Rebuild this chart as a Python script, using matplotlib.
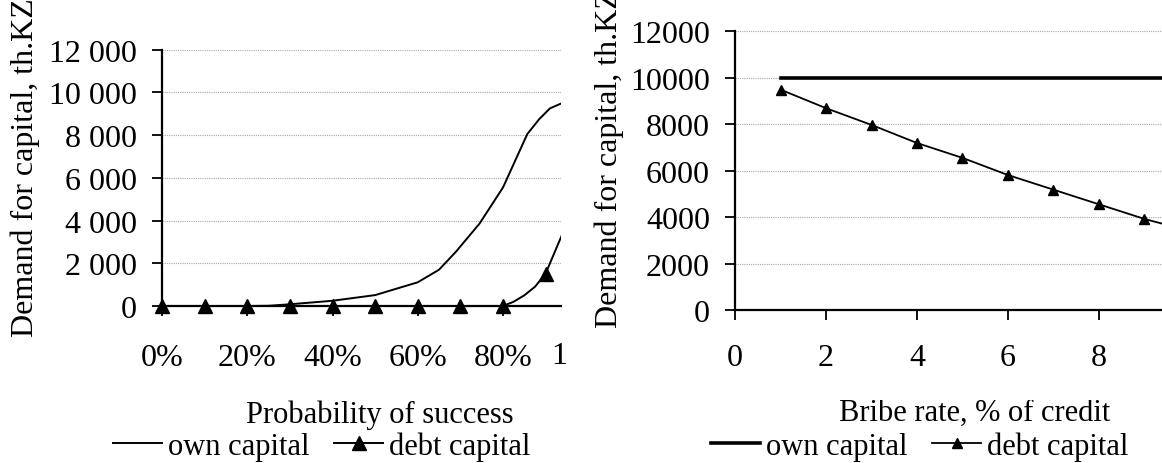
import numpy as np
import matplotlib
matplotlib.use("Agg")
import matplotlib.pyplot as plt
from matplotlib.lines import Line2D
from matplotlib.patches import Rectangle
from matplotlib.transforms import IdentityTransform

plt.rcParams['font.family'] = ['Liberation Serif', 'DejaVu Serif']

# probability of success -> demand for capital
own_p = [0.0, 0.1, 0.2, 0.25, 0.3, 0.4, 0.5, 0.6, 0.65, 0.69, 0.745, 0.8,
         0.857, 0.885, 0.91, 0.935, 0.96]
own_by_p = [0, 0, 0, 10, 80, 245, 510, 1110, 1700, 2550, 3860, 5550,
            8050, 8750, 9250, 9470, 9600]
debt_p = [0.0, 0.1, 0.2, 0.3, 0.4, 0.5, 0.6, 0.7, 0.75, 0.8, 0.825, 0.85,
          0.875, 0.9, 0.935, 0.96]
debt_by_p = [0, 0, 0, 0, 0, 0, 0, 0, -100, 0, 200, 500, 900, 1520, 3170, 4300]
p_ticks = [0.0, 0.2, 0.4, 0.6, 0.8]

# bribe rate -> demand for capital
bribe = [1, 2, 3, 4, 5, 6, 7, 8, 9, 10]
own_by_bribe = [10000] * 10
debt_by_bribe = [9490, 8690, 7970, 7190, 6550, 5810, 5180, 4550, 3920, 3400]
bribe_ticks = [0, 2, 4, 6, 8]

y_ticks = [0, 2000, 4000, 6000, 8000, 10000, 12000]
ylab = 'Demand for capital, th.KZT'
FS = 23

W, H = 1162, 464


def box(l, t, r, b):
    return [l / W, 1 - b / H, (r - l) / W, (b - t) / H]


def clip_to(txt, x0, y0, x1, y1):
    # clip a text to a rectangle given in pixels from the top-left corner
    r = Rectangle((x0, H - y1), x1 - x0, y1 - y0, transform=IdentityTransform())
    txt.set_clip_path(r)


def style(ax, xpad):
    for s in ('top', 'right'):
        ax.spines[s].set_visible(False)
    for s in ('left', 'bottom'):
        ax.spines[s].set_linewidth(1.6)
    ax.set_ylim(0, 12000)
    ax.set_yticks(y_ticks)
    ax.yaxis.grid(True, color='#a8a8a8', linestyle=(0, (1, 1)), linewidth=0.8)
    ax.set_axisbelow(True)
    ax.tick_params(axis='both', direction='out', length=7, width=1.3,
                   labelsize=FS, color='black')
    ax.tick_params(axis='y', pad=11)
    ax.tick_params(axis='x', pad=xpad)


fig = plt.figure(figsize=(W / 100, H / 100), dpi=100)

# left chart: probability of success
ax1 = fig.add_axes(box(162, 50.7, 561, 307))
style(ax1, 20)
px_per_unit = (503 - 162) / 0.8
ax1.set_xticks(p_ticks)
ax1.set_xticklabels([f'{int(round(t * 100))}%' for t in p_ticks])
ax1.set_xlim(0, (561 - 162) / px_per_unit)
ax1.set_yticklabels([f'{v:,}'.replace(',', ' ') for v in y_ticks])

ax1.plot(own_p, own_by_p, color='black', lw=1.4)
ax1.plot(debt_p, debt_by_p, color='black', lw=1.4)
marks = [i for i, x in enumerate(debt_p) if abs(x * 10 - round(x * 10)) < 1e-9]
ax1.plot(debt_p, debt_by_p, linestyle='none', marker='^', ms=10,
         color='black', markevery=marks, clip_on=False, zorder=5)

# 100% label sits past the visible end of the axis
t100 = fig.text((162 + px_per_unit) / W, 1 - 357 / H, '100%', ha='center',
                va='center', fontsize=FS)
clip_to(t100, 0, 0, 567, H)

fig.text(25 / W, 1 - 337 / H, ylab, rotation=90, ha='center', va='bottom',
         fontsize=FS)
fig.text(380 / W, 1 - 415 / H, 'Probability of success', ha='center',
         va='center', fontsize=22)
h1 = [Line2D([], [], color='black', lw=1.4),
      Line2D([], [], color='black', lw=1.4, marker='^', ms=10)]
fig.legend(h1, ['own capital', 'debt capital'], loc='center',
           bbox_to_anchor=(322 / W, 1 - 447 / H), ncol=2, frameon=False,
           fontsize=22, handlelength=1.6, handletextpad=0.2,
           columnspacing=0.8, borderpad=0)

# right chart: bribe rate
ax2 = fig.add_axes(box(735, 32.3, 735 + 45.5 * 10, 311))
style(ax2, 17)
ax2.set_xticks(bribe_ticks)
ax2.set_xlim(0, 10)
ax2.plot(bribe, own_by_bribe, color='black', lw=2.6)
ax2.plot(bribe, debt_by_bribe, color='black', lw=1.3, marker='^', ms=6.5)

fig.text(609 / W, 1 - 328 / H, ylab, rotation=90, ha='center', va='bottom',
         fontsize=FS)
tb = fig.text(975 / W, 1 - 413 / H, 'Bribe rate, % of credit', ha='center',
              va='center', fontsize=22)
clip_to(tb, 0, 401, W, H)
h2 = [Line2D([], [], color='black', lw=2.6),
      Line2D([], [], color='black', lw=1.3, marker='^', ms=6.5)]
fig.legend(h2, ['own capital', 'debt capital'], loc='center',
           bbox_to_anchor=(920 / W, 1 - 447 / H), ncol=2, frameon=False,
           fontsize=22, handlelength=1.6, handletextpad=0.2,
           columnspacing=0.8, borderpad=0)

fig.savefig('out.png', dpi=100)
